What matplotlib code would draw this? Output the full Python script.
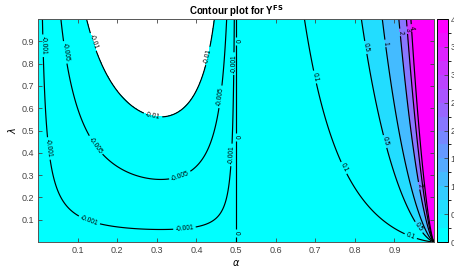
import numpy as np
import matplotlib
matplotlib.use("Agg")
import matplotlib.pyplot as plt
from matplotlib.colors import ListedColormap, BoundaryNorm

# ---- data / parameters ----
alpha = np.linspace(0.0, 1.0, 700)
lam = np.linspace(0.001, 1.0, 450)
coef_c = 0.18          # scale of Y^FS
coef_q = 1.4           # pole order near alpha = 1
levels = [-0.01, -0.005, -0.001, 0, 0.1, 0.5, 1, 2, 3, 4]
xticks = [0.1, 0.2, 0.3, 0.4, 0.5, 0.6, 0.7, 0.8, 0.9]
yticks = [0.1, 0.2, 0.3, 0.4, 0.5, 0.6, 0.7, 0.8, 0.9]
cbar_ticks = [0, 0.5, 1, 1.5, 2, 2.5, 3, 3.5, 4]
# approximate label positions (alpha, lambda)
label_pos = {
    -0.01: [(0.145, 0.90), (0.29, 0.565), (0.44, 0.83)],
    -0.005: [(0.067, 0.85), (0.15, 0.44), (0.36, 0.29), (0.465, 0.65)],
    -0.001: [(0.012, 0.88), (0.03, 0.42), (0.13, 0.10), (0.37, 0.06), (0.494, 0.39), (0.497, 0.80)],
    0: [(0.503, 0.90), (0.503, 0.47), (0.503, 0.04)],
    0.1: [(0.70, 0.74), (0.77, 0.33), (0.94, 0.02)],
    0.5: [(0.82, 0.87), (0.875, 0.45), (0.965, 0.07)],
    1: [(0.875, 0.89)],
    2: [(0.915, 0.94), (0.955, 0.25)],
    3: [(0.933, 0.95)],
    4: [(0.945, 0.96)],
}

A, L = np.meshgrid(alpha, lam)
Z = coef_c * L * A * (A - 0.5) / np.maximum(1 - A, 2e-3) ** coef_q

plt.rcParams['font.family'] = ['Liberation Sans', 'DejaVu Sans']
plt.rcParams['axes.unicode_minus'] = False
fig = plt.figure(figsize=(4.54, 2.74), dpi=100)
ax = fig.add_axes([38/454, 1 - 242/274, 396/454, 223/274])
cax = fig.add_axes([437/454, 1 - 242/274, 11/454, 223/274])

base = plt.get_cmap('cool')
cmap = ListedColormap(base(np.linspace(0, 1, 16)))

# MATLAB-style fill: each band takes colour of its lower level
fill_levels = levels + [float(Z.max()) + 1]
band_colors = [cmap(min(max(v, 0) / 4.0, 0.9999)) for v in levels]
ax.contourf(A, L, Z, levels=fill_levels, colors=band_colors)
for lv in levels:
    cs = ax.contour(A, L, Z, levels=[lv], colors='k', linewidths=0.85, linestyles='solid')
    pts = label_pos.get(lv, [])
    if pts:
        ax.clabel(cs, fontsize=4.8, inline=True, inline_spacing=2,
                  fmt=lambda v: f"{v:g}", manual=pts)

ax.set_xlim(0, 1)
ax.set_ylim(0, 1)
ax.set_xticks(xticks)
ax.set_yticks(yticks)
ax.tick_params(direction='in', length=3, width=0.6, labelsize=6.5, colors='#444444',
               top=True, right=True, pad=3)
for s in ax.spines.values():
    s.set_color('#555555')
    s.set_linewidth(0.7)
ax.set_xlabel(r'$\alpha$', fontsize=7, labelpad=2)
ax.set_ylabel(r'$\lambda$', fontsize=7, labelpad=2)
ax.set_title(r'Contour plot for Y$^{\mathbf{FS}}$', fontsize=7, fontweight='bold', pad=3)

norm = BoundaryNorm(np.linspace(0, 4, 17), 16)
sm = matplotlib.cm.ScalarMappable(norm=norm, cmap=cmap)
cb = fig.colorbar(sm, cax=cax, ticks=cbar_ticks)
cb.ax.tick_params(direction='in', length=3, width=0.6, labelsize=6.5, colors='#444444', pad=2)
cb.outline.set_linewidth(0.7)
cb.ax.set_yticklabels([f"{t:g}" for t in cbar_ticks])

fig.savefig('out.png', dpi=100)
